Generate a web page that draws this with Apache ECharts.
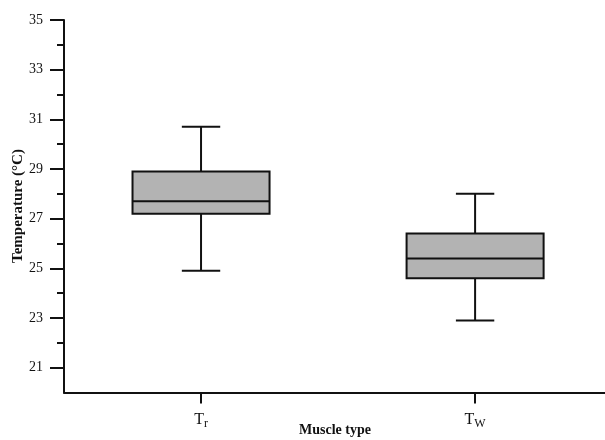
<!DOCTYPE html>
<html>
<head>
<meta charset="utf-8">
<script src="https://cdn.jsdelivr.net/npm/echarts@6/dist/echarts.min.js"></script>
<style>
  html, body { margin: 0; padding: 0; background: #ffffff; }
  #chart { width: 605px; height: 440px; }
</style>
</head>
<body>
<div id="chart"></div>
<script>
// Muscle temperature by muscle type (box statistics)
const categories = ['Tr', 'TW'];
const lowWhisker = [24.9, 22.9];
const q1 = [27.2, 24.6];
const median = [27.7, 25.4];
const q3 = [28.9, 26.4];
const highWhisker = [30.7, 28.0];

const majorTicks = [21, 23, 25, 27, 29, 31, 33, 35];
const minorTicks = [22, 24, 26, 28, 30, 32, 34];

const categoryPositions = categories.map((c, i) => i);
const seriesData = categories.map((c, i) => [i, lowWhisker[i], q1[i], median[i], q3[i], highWhisker[i]]);

const FONT = '"Liberation Serif", "Times New Roman", serif';

function renderBox(params, api) {
  const idx = api.value(0);
  const band = api.size([1, 0])[0];
  const halfBox = band * 0.25;
  const halfCap = band * 0.07;
  const pLow = api.coord([idx, api.value(1)]);
  const pQ1 = api.coord([idx, api.value(2)]);
  const pMed = api.coord([idx, api.value(3)]);
  const pQ3 = api.coord([idx, api.value(4)]);
  const pHigh = api.coord([idx, api.value(5)]);
  const x = pMed[0];
  const lineStyle = { stroke: '#111', lineWidth: 2, fill: null };
  return {
    type: 'group',
    children: [
      { type: 'line', shape: { x1: x, y1: pQ3[1], x2: x, y2: pHigh[1] }, style: lineStyle },
      { type: 'line', shape: { x1: x, y1: pQ1[1], x2: x, y2: pLow[1] }, style: lineStyle },
      { type: 'line', shape: { x1: x - halfCap, y1: pHigh[1], x2: x + halfCap, y2: pHigh[1] }, style: lineStyle },
      { type: 'line', shape: { x1: x - halfCap, y1: pLow[1], x2: x + halfCap, y2: pLow[1] }, style: lineStyle },
      { type: 'rect', shape: { x: x - halfBox, y: pQ3[1], width: halfBox * 2, height: pQ1[1] - pQ3[1] },
        style: { fill: '#b3b3b3', stroke: '#111', lineWidth: 2 } },
      { type: 'line', shape: { x1: x - halfBox, y1: pMed[1], x2: x + halfBox, y2: pMed[1] }, style: lineStyle }
    ]
  };
}

const chart = echarts.init(document.getElementById('chart'), null, { renderer: 'canvas' });
chart.setOption({
  backgroundColor: '#ffffff',
  animation: false,
  textStyle: { fontFamily: FONT },
  grid: { left: 64, right: 0, top: 20, bottom: 47.5, containLabel: false },
  // category slots sit at 0 and 1; the axis is cut off a little before the last half slot
  xAxis: {
    type: 'value',
    min: -0.5,
    max: 1.474,
    axisLine: { show: true, onZero: false, lineStyle: { color: '#111', width: 2 } },
    axisTick: { show: true, customValues: categoryPositions, length: 11, lineStyle: { color: '#111', width: 2 } },
    axisLabel: {
      show: true,
      customValues: categoryPositions,
      margin: 17,
      formatter: v => {
        const name = categories[Math.round(v)];
        return name[0] + '{s|' + name.slice(1) + '}';
      },
      color: '#111',
      fontFamily: FONT,
      fontSize: 16,
      rich: { s: { fontSize: 12, fontFamily: FONT, color: '#111', padding: [8, 0, 0, 0] } }
    },
    splitLine: { show: false }
  },
  yAxis: [
    {
      type: 'value',
      min: 20,
      max: 35,
      position: 'left',
      axisLine: { show: true, onZero: false, lineStyle: { color: '#111', width: 2 } },
      axisTick: { show: true, customValues: majorTicks, length: 14, lineStyle: { color: '#111', width: 2 } },
      axisLabel: { customValues: majorTicks, color: '#111', fontFamily: FONT, fontSize: 14, margin: 21 },
      splitLine: { show: false }
    },
    {
      type: 'value',
      min: 20,
      max: 35,
      position: 'left',
      axisLine: { show: false, onZero: false },
      axisTick: { show: true, customValues: minorTicks, length: 7, lineStyle: { color: '#111', width: 2 } },
      axisLabel: { show: false },
      splitLine: { show: false }
    }
  ],
  graphic: [
    {
      type: 'text',
      left: 299,
      top: 423,
      style: { text: 'Muscle type', font: 'bold 14px ' + FONT, fill: '#111' }
    },
    {
      type: 'text',
      x: 18,
      y: 206,
      rotation: Math.PI / 2,
      style: { text: 'Temperature (°C)', font: 'bold 15px ' + FONT, fill: '#111', align: 'center', verticalAlign: 'middle' }
    }
  ],
  series: [{
    type: 'custom',
    renderItem: renderBox,
    encode: { x: 0, y: [1, 2, 3, 4, 5] },
    data: seriesData
  }]
});
</script>
</body>
</html>
